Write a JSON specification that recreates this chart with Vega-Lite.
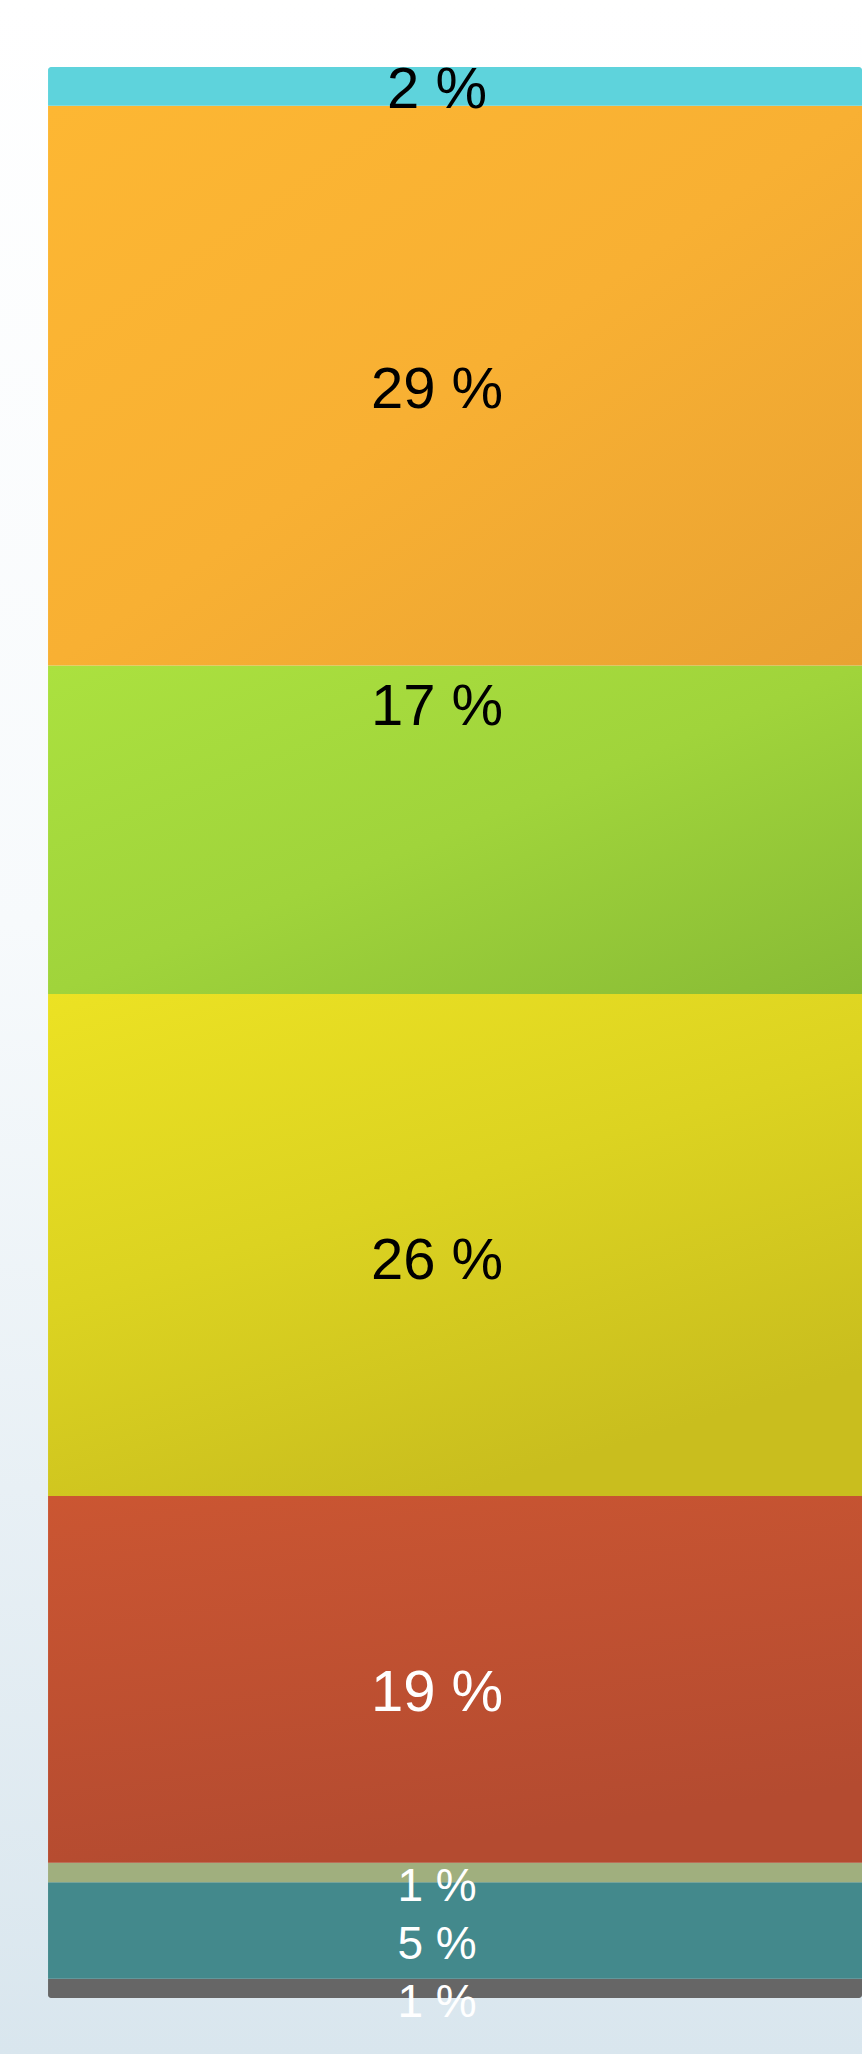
{
  "$schema": "https://vega.github.io/schema/vega-lite/v6.json",
  "width": 862,
  "height": 2054,
  "autosize": {"type": "none"},
  "padding": 0,
  "background": "#ffffff",
  "config": {
    "view": {
      "stroke": null,
      "fill": {
        "gradient": "linear", "x1": 0, "y1": 0, "x2": 0, "y2": 1,
        "stops": [
          {"offset": 0, "color": "#ffffff"},
          {"offset": 0.45, "color": "#f7fafc"},
          {"offset": 1, "color": "#d9e6ee"}
        ]
      }
    },
    "text": {"font": "Liberation Sans"}
  },
  "data": {
    "values": [
      {"bar": "A", "segment": "gray", "order": 1, "value": 1, "label": "1 %"},
      {"bar": "A", "segment": "teal", "order": 2, "value": 5, "label": "5 %"},
      {"bar": "A", "segment": "khaki", "order": 3, "value": 1, "label": "1 %"},
      {"bar": "A", "segment": "red", "order": 4, "value": 19, "label": "19 %"},
      {"bar": "A", "segment": "yellow", "order": 5, "value": 26, "label": "26 %"},
      {"bar": "A", "segment": "green", "order": 6, "value": 17, "label": "17 %"},
      {"bar": "A", "segment": "orange", "order": 7, "value": 29, "label": "29 %"},
      {"bar": "A", "segment": "cyan", "order": 8, "value": 2, "label": "2 %"}
    ]
  },
  "encoding": {
    "x": {
      "field": "bar", "type": "nominal", "axis": null,
      "scale": {"paddingInner": 0, "paddingOuter": 0.0295, "align": 1}
    },
    "y": {
      "field": "value", "type": "quantitative", "stack": "zero", "axis": null,
      "scale": {"domain": [-2.9, 103.47], "nice": false, "zero": false}
    },
    "order": {"field": "order", "type": "quantitative"},
    "detail": {"field": "segment", "type": "nominal"}
  },
  "layer": [
    {
      "mark": {"type": "bar", "cornerRadius": 3},
      "encoding": {
        "fill": {
          "condition": [
            {"test": "datum.segment === 'cyan'", "value": "#5ed3dc"},
            {"test": "datum.segment === 'orange'", "value": {"gradient": "linear", "x1": 0, "y1": 0, "x2": 1, "y2": 1, "stops": [{"offset": 0, "color": "#fdb733"}, {"offset": 0.5, "color": "#f8b033"}, {"offset": 1, "color": "#e9a232"}]}},
            {"test": "datum.segment === 'green'", "value": {"gradient": "linear", "x1": 0, "y1": 0, "x2": 1, "y2": 1, "stops": [{"offset": 0, "color": "#abe13f"}, {"offset": 0.5, "color": "#a0d43b"}, {"offset": 1, "color": "#88bb35"}]}},
            {"test": "datum.segment === 'yellow'", "value": {"gradient": "linear", "x1": 0, "y1": 0, "x2": 0.5, "y2": 1, "stops": [{"offset": 0, "color": "#ece223"}, {"offset": 0.5, "color": "#dcd321"}, {"offset": 1, "color": "#c9be1e"}]}},
            {"test": "datum.segment === 'red'", "value": {"gradient": "linear", "x1": 0, "y1": 0, "x2": 0.3, "y2": 1, "stops": [{"offset": 0, "color": "#cb5632"}, {"offset": 1, "color": "#b44b30"}]}},
            {"test": "datum.segment === 'khaki'", "value": "#a0af7e"},
            {"test": "datum.segment === 'teal'", "value": "#43898c"}
          ],
          "value": "#666666"
        }
      }
    },
    {
      "mark": {"type": "text", "fontSize": 58, "color": "#000000", "dx": -18, "dy": 5, "baseline": "middle", "align": "center"},
      "encoding": {
        "y": {"field": "value", "type": "quantitative", "stack": "zero", "bandPosition": 0.5, "axis": null, "scale": {"domain": [-2.9, 103.47], "nice": false, "zero": false}},
        "text": {"condition": {"test": "datum.segment === 'cyan' || datum.segment === 'orange'", "field": "label"}, "value": ""}
      }
    },
    {
      "mark": {"type": "text", "fontSize": 58, "color": "#000000", "dx": -18, "dy": 17, "baseline": "middle", "align": "center"},
      "encoding": {
        "y": {"field": "value", "type": "quantitative", "stack": "zero", "bandPosition": 0.5, "axis": null, "scale": {"domain": [-2.9, 103.47], "nice": false, "zero": false}},
        "text": {"condition": {"test": "datum.segment === 'yellow'", "field": "label"}, "value": ""}
      }
    },
    {
      "mark": {"type": "text", "fontSize": 58, "color": "#000000", "dx": -18, "dy": -122, "baseline": "middle", "align": "center"},
      "encoding": {
        "y": {"field": "value", "type": "quantitative", "stack": "zero", "bandPosition": 0.5, "axis": null, "scale": {"domain": [-2.9, 103.47], "nice": false, "zero": false}},
        "text": {"condition": {"test": "datum.segment === 'green'", "field": "label"}, "value": ""}
      }
    },
    {
      "mark": {"type": "text", "fontSize": 58, "color": "#ffffff", "dx": -18, "dy": 15, "baseline": "middle", "align": "center"},
      "encoding": {
        "y": {"field": "value", "type": "quantitative", "stack": "zero", "bandPosition": 0.5, "axis": null, "scale": {"domain": [-2.9, 103.47], "nice": false, "zero": false}},
        "text": {"condition": {"test": "datum.segment === 'red'", "field": "label"}, "value": ""}
      }
    },
    {
      "mark": {"type": "text", "fontSize": 46, "color": "#ffffff", "dx": -18, "dy": 15, "baseline": "middle", "align": "center"},
      "encoding": {
        "y": {"field": "value", "type": "quantitative", "stack": "zero", "bandPosition": 0.5, "axis": null, "scale": {"domain": [-2.9, 103.47], "nice": false, "zero": false}},
        "text": {"condition": {"test": "datum.segment === 'khaki' || datum.segment === 'teal' || datum.segment === 'gray'", "field": "label"}, "value": ""}
      }
    }
  ]
}
